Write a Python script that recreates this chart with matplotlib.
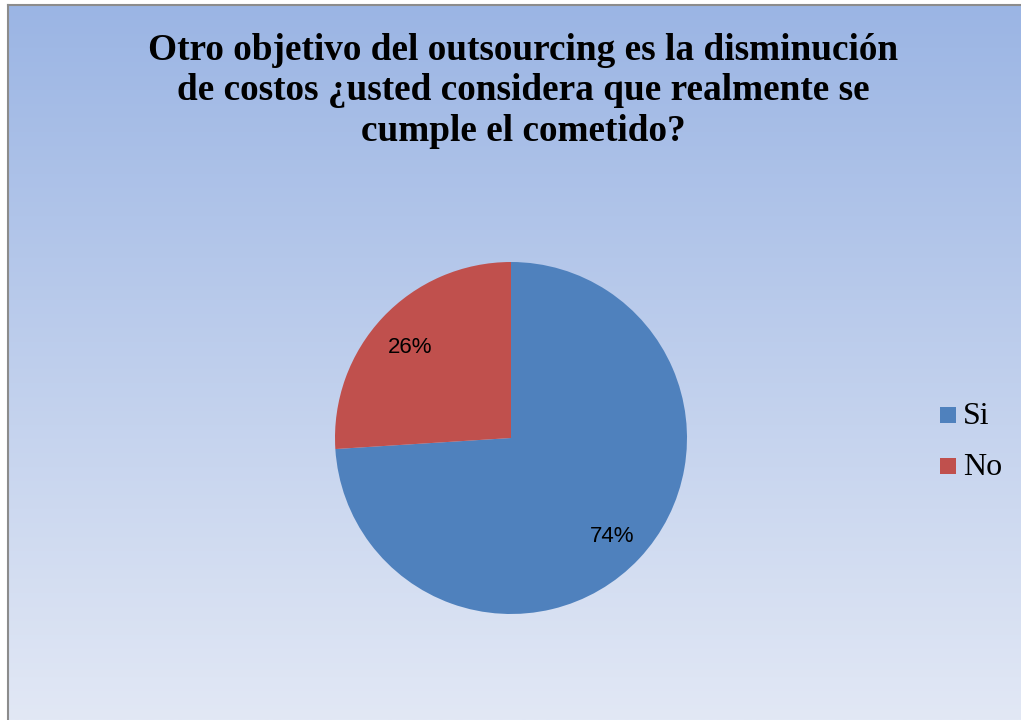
import numpy as np
import matplotlib.pyplot as plt
from matplotlib.colors import LinearSegmentedColormap
from matplotlib.patches import Rectangle
from matplotlib.transforms import ScaledTranslation

labels = ["Si", "No"]
values = [74, 26]
colors = ["#4F81BD", "#C0504D"]
title = "Otro objetivo del outsourcing es la disminución\nde costos ¿usted considera que realmente se\ncumple el cometido?"

W, H = 1021, 720
fig = plt.figure(figsize=(W / 100, H / 100), dpi=100)
fig.patch.set_facecolor("white")

# background gradient
bg = fig.add_axes([8 / W, 0, 1 - 8 / W, 1 - 5 / H])
cmap = LinearSegmentedColormap.from_list("g", ["#9BB5E4", "#E2E8F5"])
grad = np.linspace(0, 1, 256).reshape(-1, 1)
bg.imshow(grad, aspect="auto", cmap=cmap, extent=[0, 1, 0, 1], origin="upper")
bg.set_xticks([]); bg.set_yticks([])
for s in ["right", "bottom"]:
    bg.spines[s].set_visible(False)
for s in ["left", "top"]:
    bg.spines[s].set_color("#8C8C8C")
    bg.spines[s].set_linewidth(1.5)

fig.text(523 / W, 1 - 91 / H, title, ha="center", va="center",
         fontsize=26.8, fontweight="bold", family="Liberation Serif",
         linespacing=1.22, color="black")

r = 176
cx, cy = 511, 438
ax = fig.add_axes([(cx - r) / W, 1 - (cy + r) / H, 2 * r / W, 2 * r / H])
wedges, texts, autotexts = ax.pie(values, colors=colors, startangle=90, counterclock=False,
                                  autopct="%1.0f%%", pctdistance=0.785,
                                  wedgeprops=dict(linewidth=0),
                                  textprops=dict(fontsize=16, family="Liberation Sans", color="black"))
for t in autotexts:
    t.set_transform(t.get_transform() + ScaledTranslation(0, -0.04, fig.dpi_scale_trans))
ax.set_aspect("equal")
ax.set_xlim(-1, 1); ax.set_ylim(-1, 1)

# legend (pixel positions)
for i, (lab, col) in enumerate(zip(labels, colors)):
    ytop = 407 + i * 51
    fig.patches.append(Rectangle((940 / W, 1 - (ytop + 16) / H), 16 / W, 16 / H,
                                 transform=fig.transFigure, facecolor=col, edgecolor="none"))
    fig.text(963 / W, 1 - (ytop + 17) / H, lab, ha="left", va="baseline",
             fontsize=23, family="Liberation Serif", color="black")

fig.savefig("out.png", dpi=100)
